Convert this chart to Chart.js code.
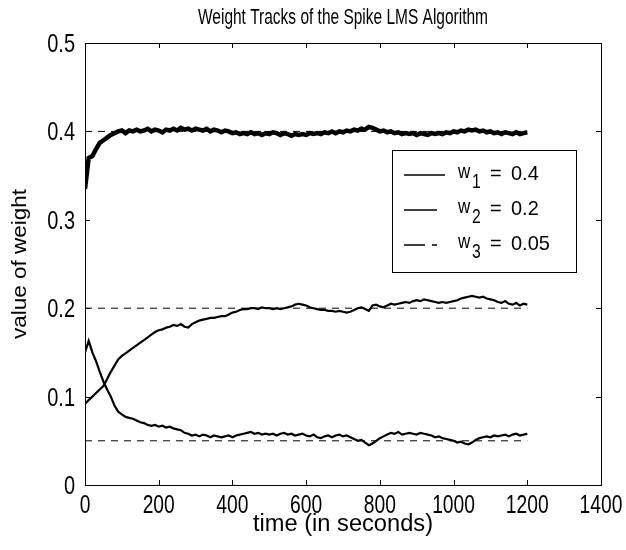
<!DOCTYPE html>
<html>
<head>
<meta charset="utf-8">
<script src="https://cdn.jsdelivr.net/npm/chart.js@4"></script>
<style>
  body { margin: 0; background: #fff; }
  #wrap { width: 626px; height: 550px; position: relative; }
</style>
</head>
<body>
<div id="wrap"><canvas id="chart"></canvas></div>
<script>
// time axis, one sample every 10 s
const times = []
for (let t = 0; t <= 1200; t += 10) times.push(t)

const w1 = [
  0.335, 0.370, 0.372, 0.380, 0.387, 0.390, 0.393, 0.396, 0.398, 0.400,
  0.401, 0.398, 0.401, 0.400, 0.402, 0.400, 0.401, 0.403, 0.400, 0.402,
  0.401, 0.399, 0.402, 0.401, 0.403, 0.401, 0.404, 0.402, 0.403, 0.401,
  0.403, 0.402, 0.401, 0.403, 0.400, 0.402, 0.401, 0.399, 0.401, 0.400,
  0.398, 0.399, 0.397, 0.398, 0.397, 0.399, 0.397, 0.398, 0.396, 0.398,
  0.397, 0.399, 0.398, 0.396, 0.398, 0.397, 0.395, 0.397, 0.396, 0.397,
  0.396, 0.398, 0.397, 0.398, 0.397, 0.399, 0.398, 0.400, 0.398, 0.400,
  0.399, 0.401, 0.400, 0.402, 0.401, 0.403, 0.402, 0.405, 0.404, 0.402,
  0.400, 0.401, 0.399, 0.400, 0.398, 0.399, 0.397, 0.398, 0.397, 0.398,
  0.396, 0.398, 0.397, 0.396, 0.398, 0.397, 0.398, 0.397, 0.399, 0.398,
  0.400, 0.399, 0.401, 0.400, 0.402, 0.401, 0.402, 0.400, 0.401, 0.399,
  0.400, 0.398, 0.399, 0.397, 0.399, 0.398, 0.397, 0.399, 0.397, 0.398,
  0.399
]

const w2 = [
  0.092, 0.096, 0.100, 0.104, 0.108, 0.112, 0.120, 0.128, 0.135, 0.142,
  0.146, 0.149, 0.152, 0.155, 0.158, 0.161, 0.164, 0.167, 0.170, 0.173,
  0.175, 0.176, 0.178, 0.179, 0.181, 0.180, 0.182, 0.179, 0.178, 0.182,
  0.184, 0.186, 0.187, 0.188, 0.189, 0.189, 0.190, 0.191, 0.191, 0.193,
  0.195, 0.196, 0.198, 0.199, 0.199, 0.200, 0.200, 0.199, 0.201, 0.200,
  0.200, 0.199, 0.200, 0.199, 0.200, 0.201, 0.202, 0.204, 0.205, 0.204,
  0.203, 0.201, 0.200, 0.199, 0.198, 0.198, 0.197, 0.197, 0.196, 0.197,
  0.196, 0.195, 0.196, 0.198, 0.200, 0.201, 0.199, 0.197, 0.203, 0.204,
  0.202, 0.201, 0.203, 0.205, 0.204, 0.205, 0.206, 0.207, 0.206, 0.208,
  0.209, 0.208, 0.210, 0.209, 0.208, 0.207, 0.206, 0.207, 0.206, 0.207,
  0.208, 0.209, 0.211, 0.212, 0.213, 0.214, 0.213, 0.212, 0.213, 0.211,
  0.210, 0.209, 0.207, 0.206, 0.208, 0.205, 0.204, 0.206, 0.203, 0.205,
  0.204
]

const w3 = [
  0.150, 0.163, 0.150, 0.140, 0.128, 0.117, 0.108, 0.100, 0.090, 0.083,
  0.080, 0.077, 0.076, 0.075, 0.073, 0.071, 0.070, 0.068, 0.067, 0.068,
  0.066, 0.067, 0.065, 0.066, 0.064, 0.063, 0.062, 0.059, 0.058, 0.056,
  0.057, 0.055, 0.057, 0.056, 0.054, 0.056, 0.055, 0.054, 0.055, 0.056,
  0.054, 0.056, 0.057, 0.058, 0.059, 0.060, 0.058, 0.059, 0.057, 0.058,
  0.057, 0.058, 0.056, 0.058, 0.059, 0.057, 0.058, 0.056, 0.057, 0.058,
  0.056, 0.055, 0.057, 0.054, 0.053, 0.055, 0.056, 0.054, 0.056, 0.057,
  0.055, 0.056, 0.054, 0.052, 0.050, 0.051, 0.048, 0.045, 0.047, 0.050,
  0.053, 0.055, 0.057, 0.059, 0.058, 0.060, 0.057, 0.058, 0.059, 0.058,
  0.057, 0.059, 0.058, 0.057, 0.056, 0.054, 0.055, 0.053, 0.052, 0.051,
  0.050, 0.048, 0.049, 0.047, 0.046, 0.048, 0.051, 0.053, 0.054, 0.055,
  0.054, 0.056, 0.055, 0.056, 0.057, 0.055, 0.057, 0.058, 0.056, 0.057,
  0.058
]

// optimal weights drawn as dashed reference lines
const targets = [0.4, 0.2, 0.05]
const targetSpan = [0, 1200]
const legendSubs = ["1", "2", "3"]
const legendValues = ["0.4", "0.2", "0.05"]

const xTicks = [0, 200, 400, 600, 800, 1000, 1200, 1400]
const yTicks = [0, 0.1, 0.2, 0.3, 0.4, 0.5]

const FONT = "'Liberation Sans', Arial, sans-serif"

const toPoints = (ys) => ys.map((y, i) => ({ x: times[i], y }))

const datasets = [w1, w2, w3].map((ys, i) => ({
  label: "w" + (i + 1),
  data: toPoints(ys),
  borderColor: "#000",
  borderWidth: i === 0 ? 4.5 : 2.2,
  pointRadius: 0,
  tension: 0,
}))

targets.forEach((v) => {
  datasets.push({
    label: "target " + v,
    data: targetSpan.map((x) => ({ x, y: v })),
    borderColor: "#000",
    borderWidth: 1,
    borderDash: [7, 6],
    pointRadius: 0,
  })
})

// text squeezed horizontally to look like the narrow MATLAB screen font
function drawText(ctx, text, x, y, size, align, sx, width) {
  ctx.save()
  ctx.font = size + "px " + FONT
  if (width) sx = width / ctx.measureText(text).width
  ctx.translate(x, y)
  ctx.scale(sx || 1, 1)
  ctx.textAlign = align
  ctx.textBaseline = "alphabetic"
  ctx.fillText(text, 0, 0)
  ctx.restore()
}

const matlabFrame = {
  id: "matlabFrame",
  afterDraw(chart) {
    const { ctx, chartArea: a, scales } = chart
    ctx.save()
    ctx.strokeStyle = "#000"
    ctx.fillStyle = "#000"
    ctx.lineWidth = 1
    ctx.strokeRect(a.left + 0.5, a.top + 0.5, a.right - a.left, a.bottom - a.top)

    // inward ticks on all four sides + tick labels
    ctx.beginPath()
    xTicks.forEach((v) => {
      const px = Math.round(scales.x.getPixelForValue(v)) + 0.5
      ctx.moveTo(px, a.bottom); ctx.lineTo(px, a.bottom - 5)
      ctx.moveTo(px, a.top); ctx.lineTo(px, a.top + 5)
    })
    yTicks.forEach((v) => {
      const py = Math.round(scales.y.getPixelForValue(v)) + 0.5
      ctx.moveTo(a.left, py); ctx.lineTo(a.left + 5, py)
      ctx.moveTo(a.right, py); ctx.lineTo(a.right - 5, py)
    })
    ctx.stroke()

    xTicks.forEach((v) => {
      drawText(ctx, String(v), scales.x.getPixelForValue(v), a.bottom + 28, 25, "center", 0.77)
    })
    yTicks.forEach((v) => {
      drawText(ctx, String(v), a.left - 10, scales.y.getPixelForValue(v) + 9, 25, "right", 0.8)
    })

    // title and axis labels
    drawText(ctx, "Weight Tracks of the Spike LMS Algorithm", (a.left + a.right) / 2, 24, 22, "center", 0, 290)
    drawText(ctx, "time (in seconds)", (a.left + a.right) / 2, 531, 23, "center", 0, 180)
    ctx.save()
    ctx.translate(26, (a.top + a.bottom) / 2)
    ctx.rotate(-Math.PI / 2)
    drawText(ctx, "value of weight", 0, 0, 20, "center", 0, 150)
    ctx.restore()

    // legend box
    const bx = 392, by = 150, bw = 184, bh = 122
    ctx.fillStyle = "#fff"
    ctx.fillRect(bx, by, bw, bh)
    ctx.strokeRect(bx + 0.5, by + 0.5, bw, bh)
    ctx.fillStyle = "#000"
    legendValues.forEach((val, i) => {
      const y = by + 25 + i * 35
      ctx.beginPath()
      ctx.lineWidth = 1.5
      ctx.setLineDash(i === 2 ? [21, 7] : [])
      ctx.moveTo(404, y); ctx.lineTo(i === 0 ? 445 : 437, y)
      ctx.stroke()
      ctx.setLineDash([])
      drawText(ctx, "w", 458, y + 3, 20, "left", 0.85)
      drawText(ctx, legendSubs[i], 472, y + 13, 21, "left", 0.75)
      drawText(ctx, "=", 490, y + 5, 21, "left", 0.95)
      drawText(ctx, val, 511, y + 5, 21, "left", 0.95)
    })
    ctx.restore()
  },
}

new Chart(document.getElementById("chart"), {
  type: "line",
  data: { datasets },
  options: {
    responsive: true,
    maintainAspectRatio: false,
    animation: false,
    layout: { padding: { top: 43, right: 25, left: 0, bottom: 0 } },
    plugins: {
      legend: { display: false },
      title: { display: false },
      tooltip: { enabled: false },
    },
    scales: {
      x: {
        type: "linear",
        min: 0,
        max: 1400,
        afterBuildTicks: (s) => { s.ticks = xTicks.map((v) => ({ value: v })) },
        afterFit: (s) => { s.height = 65 },
        grid: { display: false, drawTicks: false },
        border: { display: false },
        ticks: { display: false },
      },
      y: {
        min: 0,
        max: 0.5,
        afterBuildTicks: (s) => { s.ticks = yTicks.map((v) => ({ value: v })) },
        afterFit: (s) => { s.width = 85 },
        grid: { display: false, drawTicks: false },
        border: { display: false },
        ticks: { display: false },
      },
    },
  },
  plugins: [matlabFrame],
})
</script>
</body>
</html>
